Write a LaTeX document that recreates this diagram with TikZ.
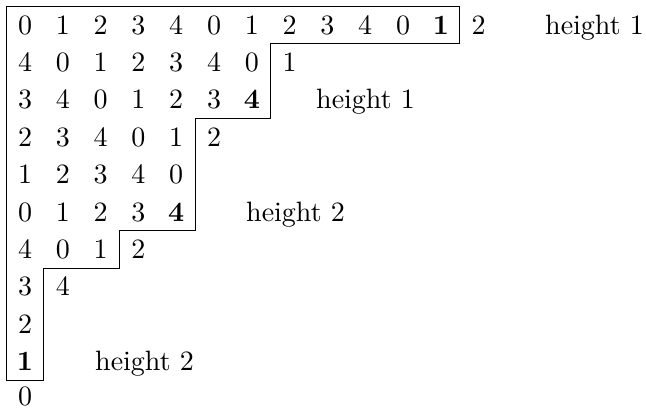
\documentclass[tikz,border=0pt]{standalone}
\begin{document}
\tikzset{
  cell/.style={anchor=base, inner sep=0pt},
  tag/.style={anchor=base west, inner sep=0pt},
  outline/.style={draw, line width=0.9pt, line join=miter},
}
% text is set at 10pt and magnified, keeping the 10pt design weight
\newcommand{\magtext}[1]{\scalebox{2.8}{#1}}
% grid: column k centred at 25+37.8k, row j baseline at 34+37.4j
\newcommand{\colx}[1]{25+37.8*(#1)}
\newcommand{\rowy}[1]{34+37.4*(#1)}
\newcommand{\edgey}[1]{25+37.4*(#1)}
\begin{tikzpicture}[x=1pt,y=-1pt]
  \useasboundingbox (0,0) rectangle (646,408);

  % the digit table
  \foreach \r/\vals in {
      0/{0,1,2,3,4,0,1,2,3,4,0,\textbf{1},2},
      1/{4,0,1,2,3,4,0,1},
      2/{3,4,0,1,2,3,\textbf{4}},
      3/{2,3,4,0,1,2},
      4/{1,2,3,4,0},
      5/{0,1,2,3,\textbf{4}},
      6/{4,0,1,2},
      7/{3,4},
      8/{2},
      9/{\textbf{1}}}{
    \foreach \v [count=\c from 0] in \vals {
      \node[cell] (n-\r-\c) at ({\colx{\c}}, {\rowy{\r}}) {\magtext{\v}};
    }
  }
  \node[cell] (n-10-0) at ({\colx{0}}, 405) {\magtext{0}};

  % staircase outline
  \draw[outline]
    ({\colx{-0.5}}, {\edgey{-0.5}}) -- ({\colx{11.5}}, {\edgey{-0.5}})
    -- ({\colx{11.5}}, {\edgey{0.5}}) -- ({\colx{6.5}}, {\edgey{0.5}})
    -- ({\colx{6.5}}, {\edgey{2.5}}) -- ({\colx{4.5}}, {\edgey{2.5}})
    -- ({\colx{4.5}}, {\edgey{5.5}}) -- ({\colx{2.5}}, {\edgey{5.5}})
    -- ({\colx{2.5}}, {\edgey{6.5}}) -- ({\colx{0.5}}, {\edgey{6.5}})
    -- ({\colx{0.5}}, {\edgey{9.5}}) -- ({\colx{-0.5}}, {\edgey{9.5}})
    -- cycle;

  % height labels
  \node[tag] (h1a) at (545, {\rowy{0}}) {\magtext{height 1}};
  \node[tag] (h1b) at (316, {\rowy{2}}) {\magtext{height 1}};
  \node[tag] (h2a) at (246, {\rowy{5}}) {\magtext{height 2}};
  \node[tag] (h2b) at (95,  {\rowy{9}}) {\magtext{height 2}};
\end{tikzpicture}
\end{document}
